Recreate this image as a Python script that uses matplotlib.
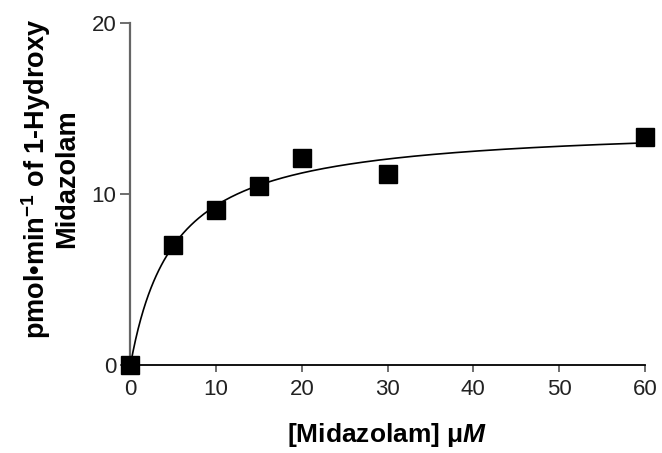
import numpy as np
import matplotlib
matplotlib.use("Agg")
import matplotlib.pyplot as plt

plt.rcParams['font.family'] = ['Liberation Sans', 'DejaVu Sans']
plt.rcParams['mathtext.fontset'] = 'custom'
plt.rcParams['mathtext.rm'] = 'Liberation Sans:bold'
plt.rcParams['mathtext.it'] = 'Liberation Sans:italic:bold'
plt.rcParams['mathtext.bf'] = 'Liberation Sans:bold'

# Substrate concentration (uM) and formation rate (pmol/min)
midazolam_conc = [0, 5, 10, 15, 20, 30, 60]
rate = [0.0, 7.0, 9.05, 10.5, 12.1, 11.15, 13.35]

# Michaelis-Menten fit parameters
vmax = 14.1
km = 5.1

x_ticks = [0, 10, 20, 30, 40, 50, 60]
y_ticks = [0, 10, 20]

fig = plt.figure(figsize=(6.62, 4.53), dpi=100)
ax = fig.add_axes([0.197, 0.194, 0.777, 0.755])

xs = np.linspace(0, 60, 400)
ax.plot(xs, vmax * xs / (km + xs), color='black', lw=1.2, zorder=3)
ax.plot(midazolam_conc, rate, linestyle='none', marker='s', ms=12.5,
        color='black', clip_on=False, zorder=5)

ax.set_xlim(0, 60)
ax.set_ylim(0, 20)
ax.set_xticks(x_ticks)
ax.set_yticks(y_ticks)

for s in ('top', 'right'):
    ax.spines[s].set_visible(False)
ax.spines['left'].set_color('#666666')
ax.spines['left'].set_linewidth(1.6)
ax.spines['bottom'].set_color('black')
ax.spines['bottom'].set_linewidth(1.3)

ax.tick_params(axis='x', length=5, width=1.2, color='#555555',
               labelsize=16, labelcolor='#222222', pad=5)
ax.tick_params(axis='y', length=7, width=1.2, color='#555555',
               labelsize=16, labelcolor='#222222', pad=3)

ax.set_xlabel('[Midazolam] μ$\\mathit{M}$', fontsize=19, fontweight='bold',
              labelpad=15)
ax.set_ylabel('pmol•min$^{-1}$ of 1-Hydroxy\nMidazolam', fontsize=19.5,
              fontweight='bold', linespacing=1.1)
ax.yaxis.set_label_coords(-0.097, 0.545)

fig.savefig('out.png', dpi=100)
